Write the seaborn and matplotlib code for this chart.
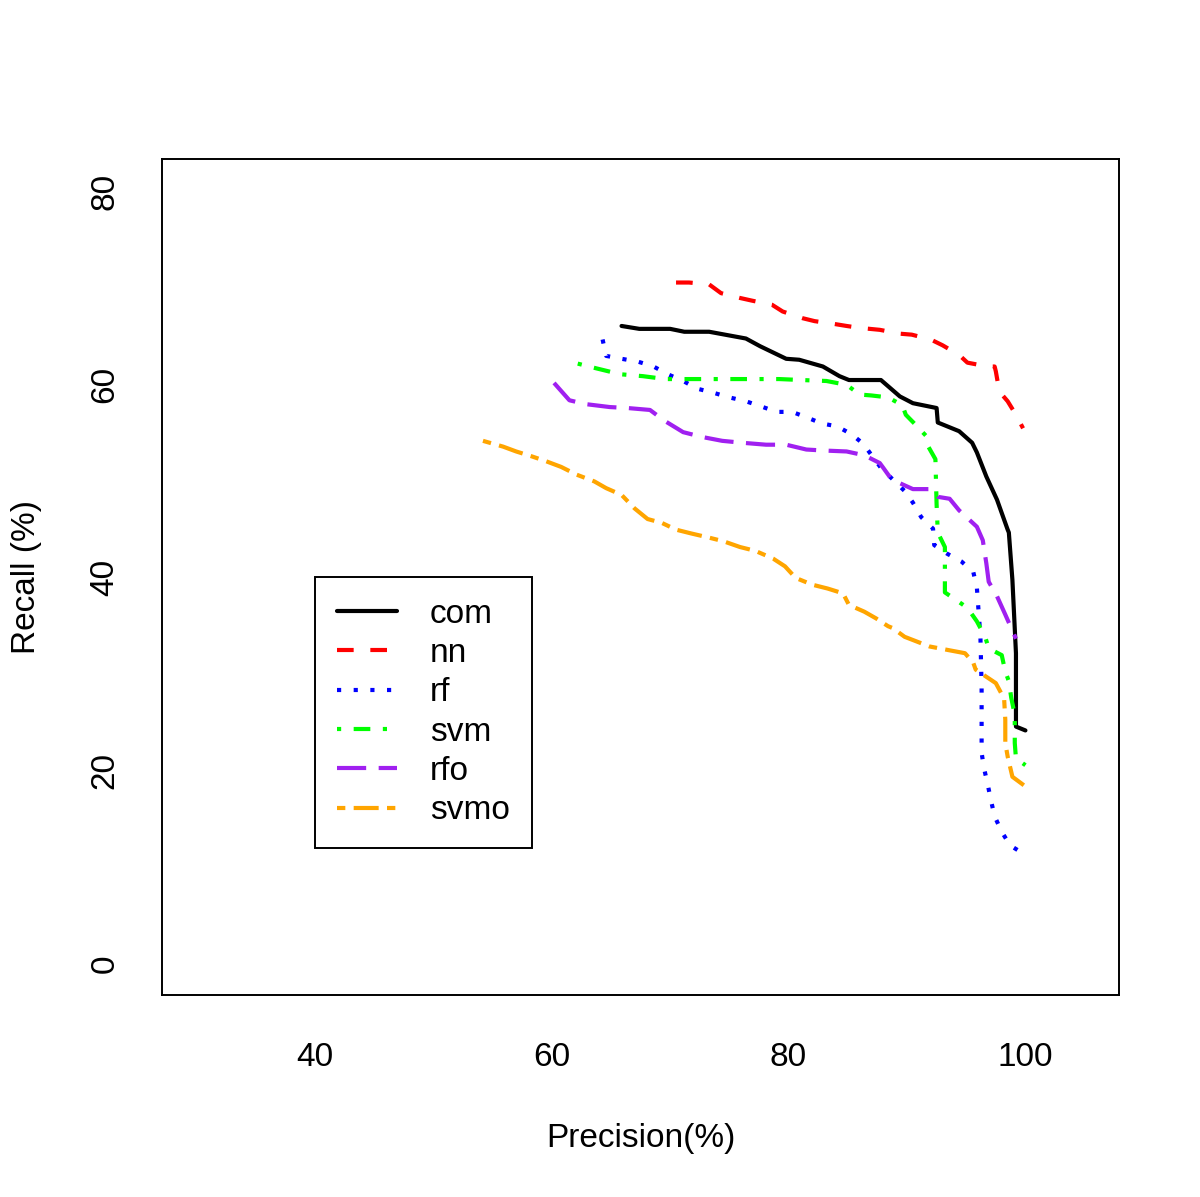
import numpy as np
import pandas as pd
import matplotlib
matplotlib.use("Agg")
import matplotlib.pyplot as plt
import seaborn as sns

# precision / recall curves
com_x = [65.9, 67.4, 70.0, 71.2, 73.3, 76.4, 77.6, 79.8, 80.9, 82.9, 84.3, 85.1, 87.8, 89.4, 90.5,
         92.5, 92.6, 94.4, 95.5, 95.9, 96.7, 97.6, 98.5, 98.6, 98.9, 99.2, 99.2, 100.0]
com_y = [66.1, 65.8, 65.8, 65.5, 65.5, 64.8, 64.0, 62.7, 62.6, 61.9, 60.9, 60.5, 60.5, 58.8, 58.1,
         57.6, 56.1, 55.2, 54.0, 53.0, 50.5, 48.1, 45.0, 44.7, 39.8, 32.2, 24.6, 24.2]

nn_x = [70.5, 71.6, 73.3, 74.3, 75.9, 77.0, 78.6, 79.5, 81.2, 82.2, 83.9, 84.9, 86.0, 87.7, 89.4,
        90.4, 92.0, 93.0, 94.4, 95.1, 96.8, 97.4, 97.5, 97.8, 98.5, 99.2, 99.8]
nn_y = [70.6, 70.6, 70.4, 69.5, 69.0, 68.7, 68.3, 67.6, 66.9, 66.6, 66.3, 66.1, 65.9, 65.7, 65.3,
        65.2, 64.7, 64.1, 63.1, 62.3, 61.9, 61.9, 61.4, 59.3, 58.3, 56.9, 55.5]

rf_x = [64.3, 64.6, 65.9, 67.3, 68.6, 69.8, 71.1, 72.3, 73.6, 75.0, 76.4, 77.6, 79.0, 80.3, 81.6,
        82.8, 84.1, 85.3, 86.3, 87.8, 89.8, 90.5, 91.2, 92.2, 92.3, 93.4, 94.6, 95.6, 95.9, 96.1,
        96.2, 96.3, 96.3, 96.5, 96.8, 97.1, 97.4, 98.0, 98.7, 100.0]
rf_y = [64.7, 63.0, 62.7, 62.4, 61.9, 61.1, 60.4, 59.6, 59.2, 58.7, 58.3, 57.8, 57.2, 57.2, 56.6,
        56.0, 55.7, 54.9, 53.9, 51.4, 49.0, 47.8, 46.3, 45.1, 43.4, 42.5, 41.7, 40.6, 39.0, 35.6,
        33.9, 28.7, 21.9, 20.3, 18.7, 16.9, 15.3, 13.7, 12.3, 11.3]

svm_x = [62.2, 63.8, 65.8, 67.7, 69.6, 73.6, 79.2, 81.1, 83.2, 84.9, 86.0, 87.0, 88.4, 89.6, 89.9,
         90.7, 91.7, 91.8, 92.4, 92.5, 92.6, 93.2, 93.2, 94.4, 95.1, 95.9, 96.6, 96.9, 98.0, 98.3,
         98.6, 98.8, 99.1, 99.1, 99.2, 100.0]
svm_y = [62.2, 61.7, 61.1, 60.9, 60.6, 60.6, 60.6, 60.5, 60.4, 60.0, 59.0, 58.9, 58.7, 57.9, 56.9,
         55.9, 54.6, 53.6, 52.3, 47.6, 44.7, 43.2, 38.5, 37.5, 36.9, 35.5, 33.9, 32.7, 32.0, 30.3,
         29.3, 27.6, 25.8, 22.9, 21.3, 20.6]

rfo_x = [60.2, 61.5, 62.9, 64.9, 66.4, 68.3, 69.5, 71.1, 72.7, 74.4, 76.1, 78.1, 79.8, 81.5, 82.9,
         84.9, 86.4, 87.7, 88.0, 88.7, 90.5, 92.0, 92.6, 93.6, 94.4, 95.9, 96.4, 96.7, 96.9, 97.6,
         98.3, 99.2]
rfo_y = [60.2, 58.4, 58.0, 57.7, 57.6, 57.4, 56.3, 55.1, 54.6, 54.2, 54.0, 53.8, 53.8, 53.3, 53.2,
         53.1, 52.7, 51.9, 51.4, 50.2, 49.2, 49.2, 48.4, 48.2, 47.0, 45.3, 43.9, 41.5, 39.6, 38.1,
         36.2, 33.7]

svmo_x = [54.2, 55.9, 57.0, 58.3, 59.5, 60.8, 62.1, 63.6, 64.6, 65.9, 67.0, 68.1, 69.3, 70.5, 71.8,
          73.2, 74.5, 75.9, 77.2, 78.7, 79.7, 80.6, 82.0, 83.3, 84.6, 85.1, 86.4, 87.4, 88.4, 88.8,
          89.8, 91.9, 93.6, 94.9, 95.6, 95.8, 97.5, 98.2, 98.3, 98.3, 98.5, 98.9, 100.0]
svmo_y = [54.2, 53.6, 53.1, 52.6, 52.1, 51.5, 50.7, 50.0, 49.3, 48.6, 47.2, 46.1, 45.7, 45.0, 44.6,
          44.2, 43.8, 43.2, 42.8, 42.0, 41.2, 40.0, 39.3, 38.9, 38.4, 37.2, 36.5, 35.8, 35.0, 34.8,
          33.9, 32.9, 32.5, 32.2, 31.2, 30.5, 29.1, 27.5, 25.3, 22.9, 21.5, 19.4, 18.4]

models = ["com", "nn", "rf", "svm", "rfo", "svmo"]
xs = [com_x, nn_x, rf_x, svm_x, rfo_x, svmo_x]
ys = [com_y, nn_y, rf_y, svm_y, rfo_y, svmo_y]

colors = {"com": "black", "nn": "#FF0000", "rf": "#0000FF", "svm": "#00FF00",
          "rfo": "#A020F0", "svmo": "#FFA500"}
# R-like line types (in line-width units)
dashes = {"com": "", "nn": (4, 4), "rf": (1, 3), "svm": (1, 3, 4, 3),
          "rfo": (7, 3), "svmo": (2, 2, 6, 2)}

frames = []
for m, x, y in zip(models, xs, ys):
    frames.append(pd.DataFrame({"model": m, "precision": x, "recall": y, "i": range(len(x))}))
df = pd.concat(frames, ignore_index=True)

sns.set_style("white")
plt.rcParams["font.family"] = ["Liberation Sans", "DejaVu Sans"]
plt.rcParams["text.color"] = "black"
plt.rcParams["axes.labelcolor"] = "black"

lw = 3.0
fig = plt.figure(figsize=(12, 11.97), dpi=100)
ax = fig.add_axes([0.135, 0.1688, 0.7975, 0.6984])

sns.lineplot(data=df, x="precision", y="recall", hue="model", style="model",
             hue_order=models, style_order=models, palette=colors, dashes=dashes,
             sort=False, estimator=None, linewidth=lw, ax=ax, legend=False)

handles = []
for line, m in zip(ax.get_lines(), models):
    line.set_solid_capstyle("round")
    line.set_solid_joinstyle("round")
    h, = ax.plot([], [], color=colors[m], linewidth=lw, label=m)
    if dashes[m]:
        h.set_dashes(dashes[m])
    handles.append(h)

ax.set_xlim(27.1, 107.9)
ax.set_ylim(-3.2, 83.4)
ax.set_xticks([40, 60, 80, 100])
ax.set_yticks([0, 20, 40, 60, 80])
ax.tick_params(axis="both", direction="out", length=14, width=1.4, labelsize=24,
               color="black", labelcolor="black")
ax.tick_params(axis="x", pad=20)
ax.tick_params(axis="y", pad=16, labelrotation=90)
for lab in ax.get_yticklabels():
    lab.set_va("center")
for s in ax.spines.values():
    s.set_color("black")
    s.set_linewidth(1.4)

ax.set_xlabel("Precision(%)", fontsize=24, labelpad=36, color="black")
ax.set_ylabel("Recall (%)", fontsize=24, labelpad=34, color="black")

leg = ax.legend(handles=handles, loc="upper left", bbox_to_anchor=(0.160, 0.500),
                borderaxespad=0, fontsize=24, frameon=True, fancybox=False,
                edgecolor="black", framealpha=1, handlelength=1.8, handletextpad=1.0,
                labelspacing=0.25, borderpad=0.65)
leg.get_frame().set_linewidth(1.4)

fig.savefig("out.png", dpi=100, facecolor="white")
